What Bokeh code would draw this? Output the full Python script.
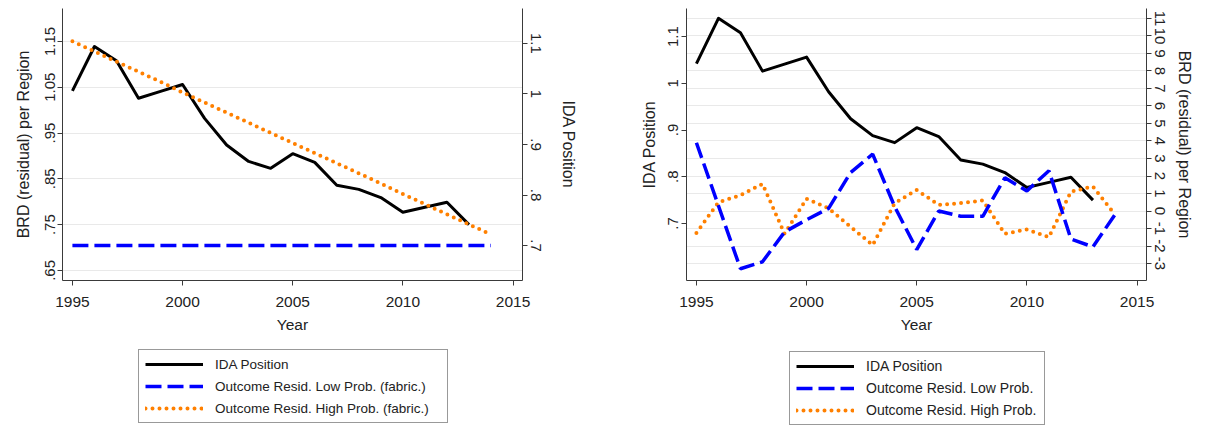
from bokeh.plotting import figure
from bokeh.models import Range1d, LinearAxis, FixedTicker, Legend, LegendItem
from bokeh.layouts import row, column
from bokeh.embed import file_html
from bokeh.resources import INLINE

# ---------------- data ----------------
years_ida = [1995, 1996, 1997, 1998, 1999, 2000, 2001, 2002, 2003, 2004,
             2005, 2006, 2007, 2008, 2009, 2010, 2011, 2012, 2013]
ida_position = [1.042, 1.139, 1.108, 1.026, 1.041, 1.056, 0.982, 0.924, 0.888, 0.873,
                0.905, 0.886, 0.836, 0.827, 0.809, 0.777, 0.788, 0.799, 0.750]

years_resid = [1995, 1996, 1997, 1998, 1999, 2000, 2001, 2002, 2003, 2004,
               2005, 2006, 2007, 2008, 2009, 2010, 2011, 2012, 2013, 2014]
# left panel (fabricated outcomes, on IDA Position axis)
low_prob_fabric = [0.70, 0.70, 0.70, 0.70, 0.70, 0.70, 0.70, 0.70, 0.70, 0.70,
                   0.70, 0.70, 0.70, 0.70, 0.70, 0.70, 0.70, 0.70, 0.70, 0.70]
high_prob_fabric = [1.104, 1.084, 1.064, 1.044, 1.024, 1.003, 0.983, 0.963, 0.943, 0.923,
                    0.903, 0.883, 0.863, 0.843, 0.823, 0.802, 0.782, 0.762, 0.742, 0.722]
# right panel (on BRD residual axis)
low_prob = [3.9, 0.3, -3.3, -2.9, -1.2, -0.5, 0.15, 2.2, 3.25, 0.25,
            -2.2, 0.0, -0.3, -0.3, 1.9, 1.15, 2.3, -1.6, -2.05, -0.2]
high_prob = [-1.25, 0.5, 0.9, 1.55, -1.3, 0.7, 0.15, -0.9, -1.95, 0.45,
             1.2, 0.35, 0.45, 0.6, -1.3, -1.05, -1.5, 1.1, 1.4, -0.2]

x_ticks = [1995, 2000, 2005, 2010, 2015]
x_labels = ["1995", "2000", "2005", "2010", "2015"]
left_brd_ticks = [0.65, 0.75, 0.85, 0.95, 1.05, 1.15]
left_brd_labels = [".65", ".75", ".85", ".95", "1.05", "1.15"]
ida_ticks = [0.7, 0.8, 0.9, 1, 1.1]
ida_labels = [".7", ".8", ".9", "1", "1.1"]
brd_ticks = [-3, -2, -1, 0, 1, 2, 3, 4, 5, 6, 7, 8, 9, 10, 11]
brd_labels = ["-3", "-2", "-1", "0", "1", "2", "3", "4", "5", "6", "7", "8", "9", "10", "11"]

legend_left = ["IDA Position", "Outcome Resid. Low Prob. (fabric.)", "Outcome Resid. High Prob. (fabric.)"]
legend_right = ["IDA Position", "Outcome Resid. Low Prob.", "Outcome Resid. High Prob."]

# ---------------- style ----------------
FONT = "Liberation Sans"
TXT = "#222222"
AXC = "#3a3a3a"
BLUE = "#0000ff"
ORANGE = "#ff8000"
TOP = 8
FRAME_H = 272
MAIN_H = 340
LEG_H = 88
W1, W2 = 600, 604

BLACK_STYLE = dict(line_color="black", line_width=3, line_join="round")
BLUE_STYLE = dict(line_color=BLUE, line_width=3.5, line_dash="16 6")
ORANGE_STYLE = dict(line_color=ORANGE, line_width=4, line_dash="0 7", line_cap="round")


def style_axis(ax, ticks, labels, label, tick_size, label_size, tick_standoff, label_standoff, vertical):
    ax.ticker = FixedTicker(ticks=ticks)
    ax.major_label_overrides = {t: l for t, l in zip(ticks, labels)}
    ax.axis_label = label
    ax.axis_label_text_font = FONT
    ax.axis_label_text_font_style = "normal"
    ax.axis_label_text_font_size = label_size
    ax.axis_label_text_color = TXT
    ax.axis_label_standoff = label_standoff
    ax.major_label_text_font = FONT
    ax.major_label_text_font_size = tick_size
    ax.major_label_text_color = TXT
    ax.major_label_standoff = tick_standoff
    ax.major_tick_out = 5
    ax.major_tick_in = 0
    ax.minor_tick_line_color = None
    ax.axis_line_color = AXC
    ax.major_tick_line_color = AXC
    if vertical:
        ax.major_label_orientation = "vertical"


def make_fig(width, mbl, mbr, y_start, y_end, yloc):
    p = figure(width=width, height=MAIN_H, output_backend="svg", toolbar_location=None,
               x_range=Range1d(1994.55, 2015.43), y_range=Range1d(y_start, y_end),
               min_border_left=mbl, min_border_right=mbr, min_border_top=TOP,
               min_border_bottom=MAIN_H - FRAME_H - TOP, y_axis_location=yloc)
    p.title.visible = False
    p.outline_line_color = None
    p.background_fill_color = "white"
    p.border_fill_color = "white"
    p.xgrid.visible = False
    p.ygrid.grid_line_color = "#e9e9e9"
    p.ygrid.grid_line_width = 1
    return p


def make_legend_fig(width, labels, x, y, size, label_width):
    # a figure that only carries the legend; its lines lie outside the visible range
    q = figure(width=width, height=LEG_H, output_backend="svg", toolbar_location=None,
               x_range=Range1d(0, 1), y_range=Range1d(0, 1),
               x_axis_location=None, y_axis_location=None,
               min_border_left=0, min_border_right=0, min_border_top=0, min_border_bottom=0)
    q.title.visible = False
    q.outline_line_color = None
    q.xgrid.visible = False
    q.ygrid.visible = False
    q.background_fill_color = "white"
    q.border_fill_color = "white"
    ra = q.line(years_ida, ida_position, **BLACK_STYLE)
    rb = q.line(years_resid, low_prob, **BLUE_STYLE)
    rc = q.line(years_resid, high_prob, **ORANGE_STYLE)
    lg = Legend(items=[LegendItem(label=labels[0], renderers=[ra]),
                       LegendItem(label=labels[1], renderers=[rb]),
                       LegendItem(label=labels[2], renderers=[rc])], location=(x, y))
    lg.label_text_font = FONT
    lg.label_text_font_size = size
    lg.label_text_color = TXT
    lg.border_line_color = "#333333"
    lg.border_line_width = 1
    lg.background_fill_color = "white"
    lg.background_fill_alpha = 1
    lg.padding = 6
    lg.spacing = 6
    lg.glyph_width = 58
    lg.glyph_height = 16
    lg.label_height = 16
    lg.label_width = label_width
    lg.label_standoff = 12
    lg.margin = 0
    q.add_layout(lg)
    return q


# ---------------- left panel ----------------
p1 = make_fig(W1, 62, 78, 0.628, 1.222, "left")
brd_axis_1 = p1.yaxis[0]
p1.extra_y_ranges = {"ida": Range1d(0.631, 1.169)}
ida_axis_1 = LinearAxis(y_range_name="ida")
p1.add_layout(ida_axis_1, "right")
style_axis(p1.xaxis[0], x_ticks, x_labels, "Year", "15.5px", "15.5px", 11, 6, False)
style_axis(brd_axis_1, left_brd_ticks, left_brd_labels, "BRD (residual) per Region", "15px", "16px", 2, 11, True)
style_axis(ida_axis_1, ida_ticks, ida_labels, "IDA Position", "15px", "16px", 3, 16, True)
p1.ygrid.ticker = FixedTicker(ticks=left_brd_ticks)

p1.line(years_ida, ida_position, **BLACK_STYLE)
p1.line(years_resid, low_prob_fabric, y_range_name="ida", **BLUE_STYLE)
p1.line(years_resid, high_prob_fabric, y_range_name="ida", **ORANGE_STYLE)

# ---------------- right panel ----------------
p2 = make_fig(W2, 86, 58, -3.97, 11.57, "right")
brd_axis_2 = p2.yaxis[0]
p2.extra_y_ranges = {"ida": Range1d(0.578, 1.16)}
ida_axis_2 = LinearAxis(y_range_name="ida")
p2.add_layout(ida_axis_2, "left")
style_axis(p2.xaxis[0], x_ticks, x_labels, "Year", "15.5px", "15.5px", 11, 6, False)
style_axis(brd_axis_2, brd_ticks, brd_labels, "BRD (residual) per Region", "15px", "16px", 3, 8, True)
style_axis(ida_axis_2, ida_ticks, ida_labels, "IDA Position", "15px", "16px", 3, 8, True)
p2.ygrid.ticker = FixedTicker(ticks=brd_ticks)

p2.line(years_ida, ida_position, y_range_name="ida", **BLACK_STYLE)
p2.line(years_resid, high_prob, **ORANGE_STYLE)
p2.line(years_resid, low_prob, **BLUE_STYLE)

# ---------------- legends ----------------
l1 = make_legend_fig(W1, legend_left, 138, 5, "13.5px", 226)
l2 = make_legend_fig(W2, legend_right, 189, 3, "14px", 172)

layout = column(row(p1, p2), row(l1, l2))
open("out.html", "w").write(file_html(layout, INLINE))
